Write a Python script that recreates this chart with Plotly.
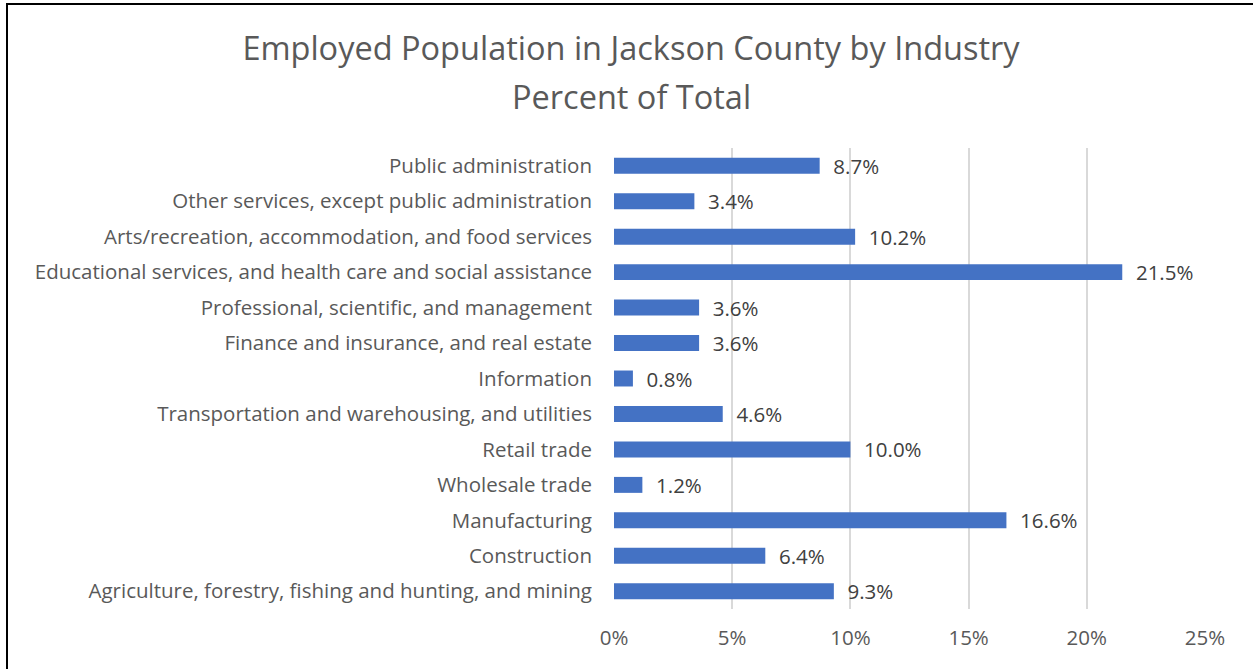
import plotly.graph_objects as go

industries = [
    "Agriculture, forestry, fishing and hunting, and mining",
    "Construction",
    "Manufacturing",
    "Wholesale trade",
    "Retail trade",
    "Transportation and warehousing, and utilities",
    "Information",
    "Finance and insurance, and real estate",
    "Professional, scientific, and management",
    "Educational services, and health care and social assistance",
    "Arts/recreation, accommodation, and food services",
    "Other services, except public administration",
    "Public administration",
]
percent = [9.3, 6.4, 16.6, 1.2, 10.0, 4.6, 0.8, 3.6, 3.6, 21.5, 10.2, 3.4, 8.7]
tick_vals = [0, 5, 10, 15, 20, 25]
tick_text = ["0%", "5%", "10%", "15%", "20%", "25%"]
title_line1 = "Employed Population in Jackson County by Industry"
title_line2 = "Percent of Total"

FONT = "Open Sans"
GRAY = "#595959"

fig = go.Figure(
    go.Bar(
        x=percent,
        y=industries,
        orientation="h",
        marker=dict(color="#4472C4", line=dict(width=0)),
        text=["\u00a0\u00a0" + f"{v:.1f}%" for v in percent],
        textposition="outside",
        constraintext="none",
        textfont=dict(family=FONT, size=20.5, color="#404040"),
        cliponaxis=False,
        hoverinfo="skip",
    )
)

# plot area: x 614..1205, y 148..609
L, R, T, B = 614, 1205, 148, 609
W, H = R - L, B - T

def px_x(p):
    return (p - L) / W

def px_y(p):
    return (B - p) / H

fig.update_layout(
    width=1253,
    height=669,
    margin=dict(l=L, r=1253 - R, t=T, b=669 - B, autoexpand=False),
    paper_bgcolor="white",
    plot_bgcolor="white",
    bargap=0.55,
    showlegend=False,
    title=dict(
        text=title_line1,
        x=631 / 1253,
        xanchor="center",
        y=1 - 49 / 669,
        yanchor="middle",
        font=dict(family=FONT, size=32.5, color=GRAY),
    ),
    annotations=[
        dict(text=title_line2, xref="paper", yref="paper",
             x=px_x(631), y=px_y(96), xanchor="center", yanchor="middle",
             showarrow=False, font=dict(family=FONT, size=32.5, color=GRAY)),
    ],
    xaxis=dict(
        range=[0, 25],
        tickvals=tick_vals,
        ticktext=tick_text,
        showgrid=True,
        gridcolor="#d9d9d9",
        gridwidth=2,
        zeroline=False,
        showline=False,
        ticks="",
        ticklabelstandoff=14,
        tickfont=dict(family=FONT, size=20.5, color=GRAY),
        fixedrange=True,
    ),
    yaxis=dict(
        categoryorder="array",
        categoryarray=industries,
        range=[-0.5, len(industries) - 0.5],
        showgrid=False,
        zeroline=False,
        showline=False,
        ticks="",
        ticklabelstandoff=21,
        tickfont=dict(family=FONT, size=20.5, color=GRAY),
        fixedrange=True,
    ),
    shapes=[
        dict(type="line", xref="paper", yref="paper",
             x0=px_x(7), x1=px_x(7), y0=px_y(3), y1=px_y(700),
             line=dict(color="black", width=2)),
        dict(type="line", xref="paper", yref="paper",
             x0=px_x(6), x1=px_x(1300), y0=px_y(4), y1=px_y(4),
             line=dict(color="black", width=2)),
    ],
)

fig.write_html(
    "out.html",
    config={"displayModeBar": False},
    post_script="document.body.style.margin='0';document.body.style.overflow='hidden';",
)
